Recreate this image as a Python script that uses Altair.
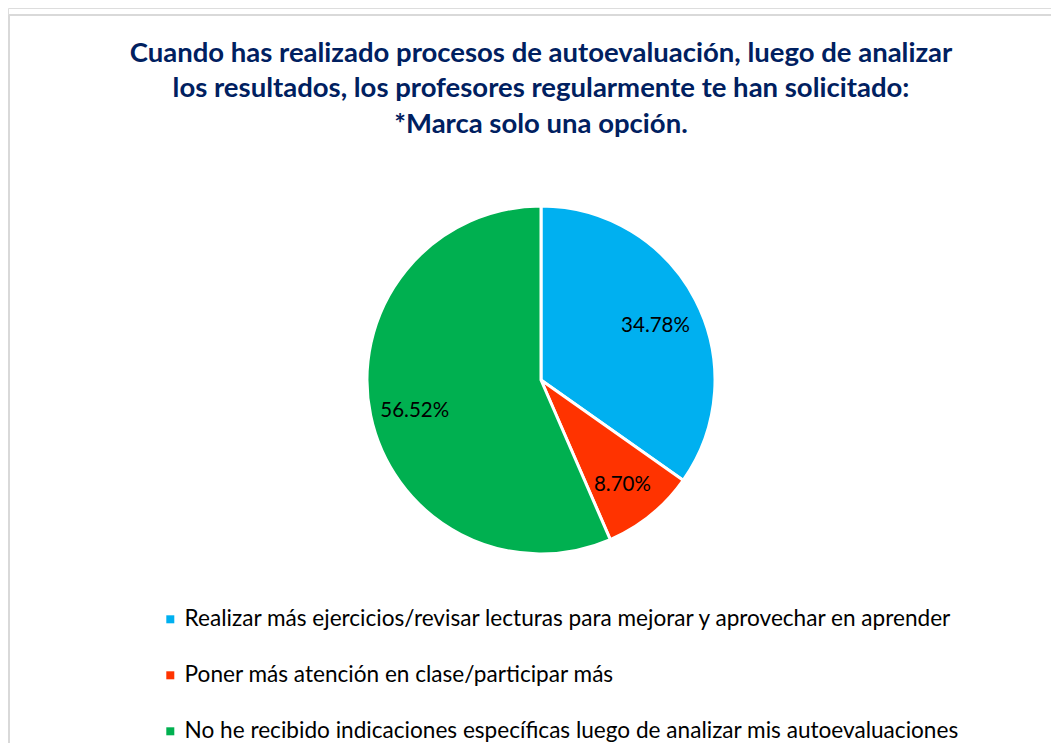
import altair as alt
import pandas as pd

categories = [
    "Realizar más ejercicios/revisar lecturas para mejorar y aprovechar en aprender",
    "Poner más atención en clase/participar más",
    "No he recibido indicaciones específicas luego de analizar mis autoevaluaciones",
]
values = [34.78, 8.70, 56.52]
labels = ["34.78%", "8.70%", "56.52%"]
colors = ["#00B0F0", "#FF3300", "#00B050"]
order = [0, 1, 2]

title_lines = [
    "Cuando has realizado procesos de autoevaluación, luego de analizar",
    "los resultados, los profesores regularmente te han solicitado:",
    "*Marca solo una opción.",
]

df = pd.DataFrame({"cat": categories, "val": values, "label": labels, "order": order})

FONT = "Lato"
CX, CY = 533, 372

base = alt.Chart(df).encode(
    theta=alt.Theta("val:Q", stack=True),
    order=alt.Order("order:Q"),
)

pie = base.mark_arc(outerRadius=174, stroke="white", strokeWidth=3).encode(
    x=alt.value(CX),
    y=alt.value(CY),
    color=alt.Color(
        "cat:N",
        sort=categories,
        scale=alt.Scale(domain=categories, range=colors),
        legend=alt.Legend(
            orient="none",
            legendX=151,
            legendY=600,
            direction="vertical",
            title=None,
            symbolType="square",
            symbolSize=64,
            symbolStrokeWidth=0,
            labelFont=FONT,
            labelFontSize=22.6,
            labelColor="#000000",
            labelLimit=0,
            labelOffset=3,
            rowPadding=33,
            padding=0,
        ),
    ),
)

text = base.mark_text(radius=129, fontSize=20.5, font=FONT, dy=5).encode(
    x=alt.value(CX),
    y=alt.value(CY),
    text=alt.Text("label:N"),
    color=alt.value("#000000"),
)

one = pd.DataFrame({"a": [0]})
top_rule = alt.Chart(one).mark_rule(color="#D9D9D9", strokeWidth=2).encode(
    x=alt.value(1), x2=alt.value(1043), y=alt.value(7)
)
left_rule = alt.Chart(one).mark_rule(color="#D9D9D9", strokeWidth=2).encode(
    x=alt.value(1), y=alt.value(7), y2=alt.value(735)
)

chart = alt.layer(top_rule, left_rule, pie, text).properties(
    width=1043,
    height=735,
    autosize="none",
    padding=0,
    title=alt.TitleParams(
        text=title_lines,
        font=FONT,
        fontSize=27.5,
        fontWeight="bold",
        color="#002060",
        anchor="middle",
        offset=-130,
        dx=11.5,
        lineHeight=35.5,
    ),
).configure_view(stroke=None).configure(background="white")

chart.save("out.html", embed_options={"renderer": "svg", "actions": False})
